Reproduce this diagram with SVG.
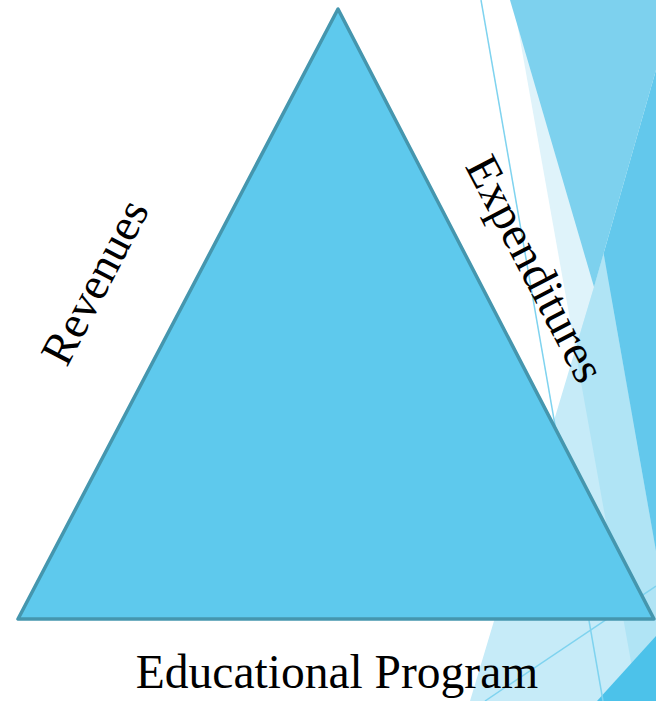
<svg xmlns="http://www.w3.org/2000/svg" width="656" height="701" viewBox="0 0 656 701">
  <style>
    .lbl { font-family: "Liberation Serif", "Times New Roman", serif; font-size: 46px; fill: #000; }
    .thin { stroke: #7fd3ef; stroke-width: 1.5; fill: none; }
  </style>
  <rect width="656" height="701" fill="#ffffff"/>
  <g id="background">
    <polygon points="513,0 559,0 656,551 656,701 638,701" fill="#dff3fa"/>
    <polygon points="660,56 594,287 470,701 656,701" fill="#c6ebf8"/>
    <polygon points="603.6,253.4 594,287 575.2,349.7 638,701 656,701 656,551" fill="#b0e4f5"/>
    <polygon points="656,70 603.6,253.4 656,551" fill="#63c8ec"/>
    <polygon points="510,0 656,0 656,70 594,287" fill="#7dd1ee"/>
    <polygon points="597,701 656,636 656,701" fill="#4cc2ea"/>
    <line class="thin" x1="481" y1="0" x2="603" y2="701"/>
    <line class="thin" x1="656" y1="586" x2="485" y2="701"/>
  </g>
  <g id="triangle">
    <polygon points="338,9 18,619 654,619" fill="#5ec9ed" stroke="#4596ae" stroke-width="3.5" stroke-linejoin="round"/>
  </g>
  <g id="label-revenues">
    <text class="lbl" text-anchor="middle" transform="translate(95,282) rotate(-62.3)" x="0" y="15">Revenues</text>
  </g>
  <g id="label-expenditures">
    <text class="lbl" text-anchor="middle" transform="translate(535,269) rotate(62.5)" x="0" y="15" style="font-size:47px">Expenditures</text>
  </g>
  <g id="label-program">
    <text class="lbl" text-anchor="middle" x="337" y="688" style="font-size:47.5px">Educational Program</text>
  </g>
</svg>
